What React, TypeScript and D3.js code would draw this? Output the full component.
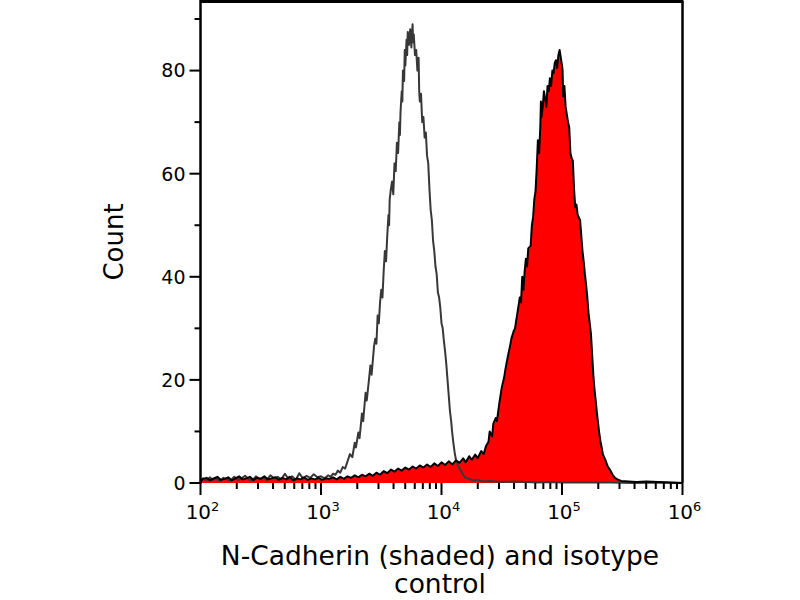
import React from 'react';
import { scaleLinear, line, area, range } from 'd3';

// log10 of fluorescence intensity and event count
const isoLog = [2.00, 2.02, 2.05, 2.08, 2.10, 2.13, 2.16, 2.19, 2.22, 2.25, 2.28, 2.31, 2.34, 2.37, 2.40, 2.43, 2.46, 2.49, 2.52, 2.55, 2.58, 2.61, 2.64, 2.67, 2.70, 2.73, 2.76, 2.79, 2.82, 2.85, 2.88, 2.91, 2.94, 2.97, 3.00, 3.03, 3.06, 3.08, 3.10, 3.12, 3.14, 3.16, 3.18, 3.20, 3.22, 3.24, 3.26, 3.28, 3.29, 3.31, 3.32, 3.34, 3.35, 3.37, 3.38, 3.40, 3.41, 3.42, 3.44, 3.45, 3.46, 3.47, 3.48, 3.49, 3.50, 3.51, 3.52, 3.53, 3.54, 3.55, 3.56, 3.565, 3.57, 3.58, 3.59, 3.60, 3.61, 3.62, 3.63, 3.64, 3.65, 3.655, 3.66, 3.67, 3.675, 3.68, 3.69, 3.695, 3.70, 3.71, 3.715, 3.72, 3.73, 3.74, 3.75, 3.755, 3.76, 3.765, 3.77, 3.78, 3.79, 3.80, 3.81, 3.815, 3.82, 3.83, 3.84, 3.85, 3.86, 3.87, 3.88, 3.89, 3.90, 3.91, 3.92, 3.93, 3.94, 3.95, 3.96, 3.97, 3.98, 3.99, 4.00, 4.01, 4.02, 4.03, 4.04, 4.05, 4.06, 4.07, 4.08, 4.09, 4.10, 4.11, 4.12, 4.14, 4.16, 4.18, 4.20, 4.23, 4.26, 4.30, 4.35, 4.40, 4.50, 4.60, 4.70, 4.80, 4.90, 5.00, 5.20, 5.40, 5.60, 5.80, 6.00];
const isoCount = [0.2, 0.9, 0.5, 1.1, 0.6, 0.8, 0.4, 1.0, 0.7, 0.5, 1.2, 0.6, 0.9, 1.4, 0.7, 0.5, 1.3, 0.8, 1.0, 0.6, 1.5, 0.9, 1.2, 0.7, 1.8, 0.8, 1.3, 0.6, 1.9, 0.9, 1.4, 1.0, 1.7, 1.1, 1.3, 0.9, 1.5, 1.2, 1.8, 1.6, 2.4, 2.0, 3.1, 2.8, 4.2, 5.6, 5.0, 7.8, 6.9, 9.8, 8.7, 13.5, 12.0, 17.5, 16.0, 20.5, 22.8, 21.0, 26.5, 28.0, 27.0, 32.5, 31.0, 35.0, 37.5, 36.0, 41.0, 45.0, 43.0, 48.0, 52.0, 50.0, 55.0, 57.0, 58.5, 56.0, 62.0, 60.5, 66.0, 64.0, 70.0, 67.5, 72.0, 76.0, 74.0, 80.0, 78.0, 84.0, 81.0, 86.0, 83.0, 87.5, 85.0, 88.0, 84.5, 87.0, 89.0, 85.5, 87.0, 83.0, 84.0, 80.0, 82.5, 76.0, 74.0, 75.5, 70.0, 71.0, 67.0, 68.0, 63.5, 62.0, 57.0, 53.0, 51.0, 47.0, 45.0, 42.0, 40.5, 37.0, 36.0, 34.0, 31.0, 30.0, 27.5, 25.5, 23.0, 20.0, 17.0, 14.0, 12.0, 9.5, 7.5, 5.8, 4.5, 3.2, 2.4, 1.6, 1.0, 0.8, 0.5, 0.6, 0.3, 0.4, 0.2, 0.3, 0.2, 0.1, 0.2, 0.1, 0.1, 0.1, 0.0, 0.1, 0];

const ncadLog = [2.00, 2.02, 2.05, 2.08, 2.11, 2.14, 2.17, 2.20, 2.23, 2.26, 2.29, 2.32, 2.35, 2.38, 2.41, 2.44, 2.47, 2.50, 2.53, 2.56, 2.59, 2.62, 2.65, 2.68, 2.71, 2.74, 2.77, 2.80, 2.83, 2.86, 2.89, 2.92, 2.95, 2.98, 3.01, 3.04, 3.07, 3.10, 3.13, 3.16, 3.19, 3.22, 3.25, 3.28, 3.31, 3.34, 3.37, 3.40, 3.43, 3.46, 3.49, 3.52, 3.55, 3.58, 3.61, 3.64, 3.67, 3.70, 3.73, 3.76, 3.79, 3.82, 3.85, 3.88, 3.91, 3.94, 3.97, 4.00, 4.03, 4.06, 4.09, 4.12, 4.15, 4.18, 4.20, 4.23, 4.25, 4.28, 4.30, 4.33, 4.35, 4.37, 4.39, 4.40, 4.42, 4.43, 4.45, 4.46, 4.48, 4.49, 4.50, 4.52, 4.53, 4.55, 4.57, 4.58, 4.60, 4.61, 4.63, 4.64, 4.65, 4.66, 4.67, 4.68, 4.69, 4.70, 4.71, 4.72, 4.74, 4.75, 4.76, 4.77, 4.78, 4.79, 4.80, 4.81, 4.82, 4.825, 4.83, 4.84, 4.85, 4.86, 4.87, 4.88, 4.89, 4.90, 4.91, 4.92, 4.93, 4.94, 4.95, 4.96, 4.97, 4.98, 4.99, 5.00, 5.005, 5.01, 5.02, 5.03, 5.04, 5.05, 5.06, 5.07, 5.08, 5.09, 5.10, 5.11, 5.12, 5.13, 5.14, 5.15, 5.16, 5.17, 5.18, 5.19, 5.20, 5.21, 5.22, 5.23, 5.24, 5.25, 5.26, 5.27, 5.28, 5.29, 5.30, 5.31, 5.32, 5.33, 5.34, 5.36, 5.38, 5.40, 5.42, 5.44, 5.46, 5.49, 5.55, 5.62, 5.70, 5.80, 5.90, 6.00];
const ncadCount = [0.3, 0.8, 1.0, 0.5, 0.9, 1.2, 0.6, 0.8, 1.1, 0.5, 0.9, 1.3, 0.7, 0.9, 1.2, 0.6, 1.0, 0.8, 1.3, 0.7, 0.9, 1.1, 0.6, 1.0, 0.7, 1.2, 0.5, 0.9, 0.7, 1.1, 0.6, 0.9, 0.7, 1.0, 0.6, 0.9, 0.8, 1.1, 0.7, 1.2, 0.8, 1.3, 1.0, 1.5, 1.1, 1.6, 1.3, 1.8, 1.4, 2.0, 1.6, 2.3, 1.9, 2.6, 2.2, 2.8, 2.4, 3.0, 2.6, 3.2, 2.8, 3.4, 3.0, 3.6, 3.1, 3.8, 3.3, 4.0, 3.5, 4.2, 3.6, 4.4, 3.9, 4.8, 4.0, 5.2, 4.5, 5.5, 4.8, 6.2, 5.6, 7.2, 8.0, 10.0, 9.0, 11.5, 12.6, 12.0, 15.5, 17.0, 18.5, 20.5, 22.0, 24.5, 26.7, 28.0, 29.5, 30.0, 33.0, 34.5, 36.0, 35.0, 40.0, 37.5, 41.0, 43.5, 42.0, 45.5, 46.0, 50.0, 51.5, 55.0, 56.5, 61.0, 66.5, 64.0, 69.0, 74.0, 71.0, 73.0, 76.0, 74.5, 73.0, 77.0, 76.0, 78.5, 77.0, 80.0, 79.5, 81.5, 82.0, 80.5, 83.0, 84.0, 82.5, 81.0, 80.0, 75.0, 77.0, 73.0, 71.5, 70.0, 69.0, 64.0, 63.0, 62.5, 57.0, 53.5, 54.0, 52.0, 51.5, 51.0, 48.0, 45.0, 43.0, 40.5, 38.5, 36.0, 33.0, 31.0, 29.0, 25.0, 21.0, 18.0, 16.0, 13.5, 11.5, 9.5, 8.0, 6.8, 5.5, 4.5, 3.2, 2.5, 1.6, 1.0, 0.7, 0.4, 0.3, 0.2, 0.3, 0.2, 0.1, 0];

const yMajorTicks = [0, 20, 40, 60, 80];
const yMinorTicks = [10, 30, 50, 70, 90];
const decades = [2, 3, 4, 5, 6];

const App = () => {
    let left = 200.5, right = 682.5, top = 1.5, bottom = 483;

    let x = scaleLinear().domain([2, 6]).range([left, right]);
    let y = scaleLinear().domain([0, 93.4]).range([bottom, top]);

    let iso = isoLog.map((d, i) => [d, isoCount[i]] as [number, number]);
    let ncad = ncadLog.map((d, i) => [d, ncadCount[i]] as [number, number]);

    let linefunc = line<[number, number]>().x(d => x(d[0])).y(d => y(d[1]));
    let areafunc = area<[number, number]>().x(d => x(d[0])).y0(y(0)).y1(d => y(d[1]));

    // minor log ticks 2..9 within each decade
    let minorX = [];
    decades.slice(0, -1).forEach(dec => {
        range(2, 10).forEach(m => minorX.push(dec + Math.log10(m)));
    });

    const font = '"DejaVu Sans", sans-serif';

    return (
        <div style={{ position: 'absolute', left: 0, top: 0 }}>
            <svg width={800} height={600} style={{ display: 'block', background: 'white' }}>
                <defs>
                    <clipPath id="plotclip">
                        <rect x={left} y={0} width={right - left} height={bottom + 2} />
                    </clipPath>
                </defs>
                <g clipPath="url(#plotclip)">
                    <path fill='#ff0000' stroke='none' d={areafunc(ncad)} />
                    <path fill='none' stroke='#383838' strokeWidth='2' strokeLinejoin='round' d={linefunc(iso)} />
                    <path fill='none' stroke='#000' strokeWidth='2' strokeLinejoin='round' d={linefunc(ncad)} />
                </g>

                {/* frame */}
                <line x1={left} x2={right + 1} y1={top} y2={top} stroke='#000' strokeWidth='3' />
                <line x1={right} x2={right} y1={top} y2={bottom} stroke='#000' strokeWidth='2.5' />
                <line x1={left} x2={left} y1={0} y2={bottom + 1} stroke='#000' strokeWidth='2.5' />

                {/* y axis */}
                {yMajorTicks.map(t => (
                    <g key={'ym' + t}>
                        <line x1={left - 11} x2={left} y1={y(t)} y2={y(t)} stroke='#000' strokeWidth='2' />
                        <text x={left - 15} y={y(t)} dy='0.36em' textAnchor='end' fontFamily={font} fontSize={19}>{t}</text>
                    </g>
                ))}
                {yMinorTicks.map(t => (
                    <line key={'yn' + t} x1={left - 6} x2={left} y1={y(t)} y2={y(t)} stroke='#000' strokeWidth='2' />
                ))}

                {/* x axis */}
                {decades.map(d => (
                    <g key={'xm' + d}>
                        <line x1={x(d)} x2={x(d)} y1={bottom} y2={bottom + 12} stroke='#000' strokeWidth='2' />
                        <text x={x(d) + 2} y={519} textAnchor='middle' fontFamily={font} fontSize={20}>
                            10<tspan fontSize={13} dy={-8}>{d}</tspan>
                        </text>
                    </g>
                ))}
                {minorX.map((d, i) => (
                    <line key={'xn' + i} x1={x(d)} x2={x(d)} y1={bottom} y2={bottom + 6} stroke='#000' strokeWidth='2' />
                ))}

                {/* titles */}
                <text transform='translate(123,242) rotate(-90)' textAnchor='middle' fontFamily={font} fontSize={26}>Count</text>
                <text x={440} y={565} textAnchor='middle' fontFamily={font} fontSize={26.5}>N-Cadherin (shaded) and isotype</text>
                <text x={440} y={593} textAnchor='middle' fontFamily={font} fontSize={26.5}>control</text>
            </svg>
        </div>
    );
}

export default App;
